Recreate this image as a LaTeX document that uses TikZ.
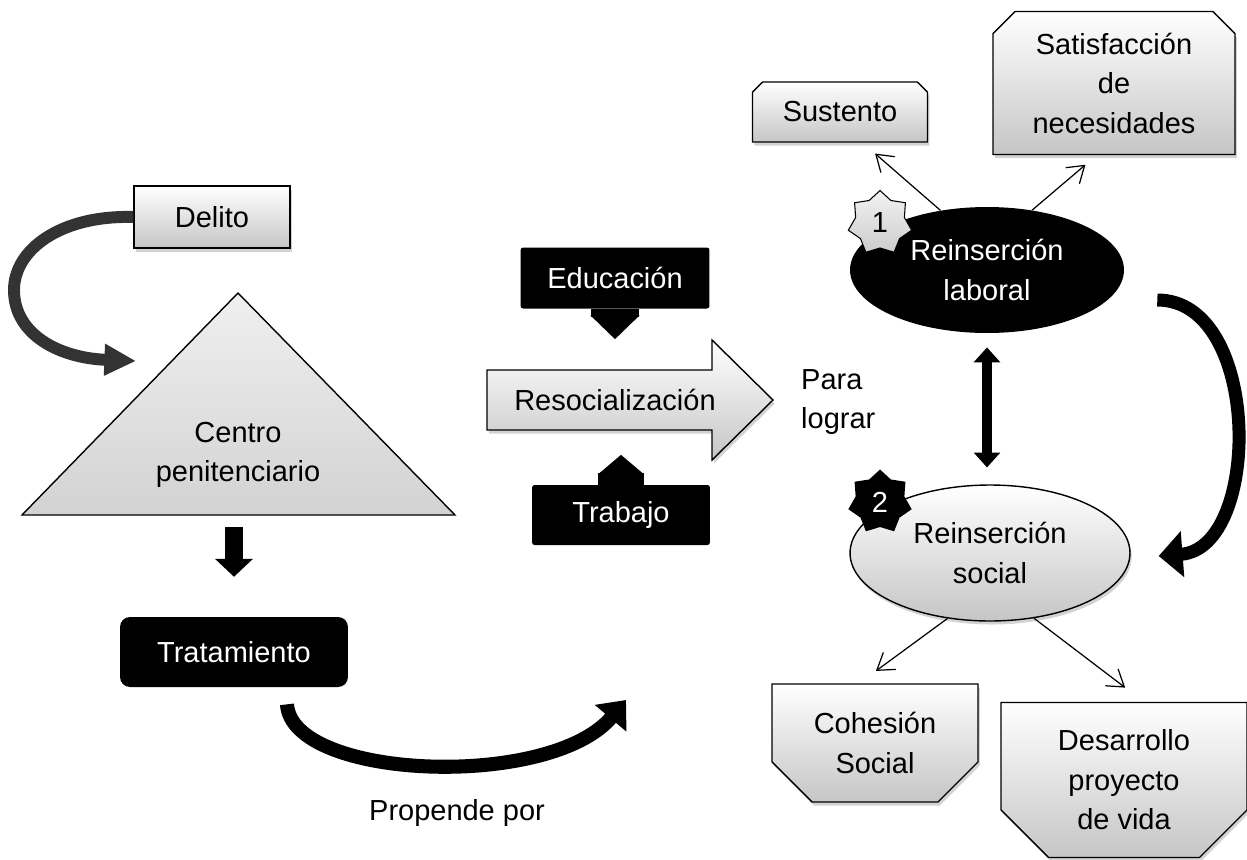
\documentclass[tikz,border=0pt]{standalone}
\usepackage{fontspec}
\setmainfont{Liberation Sans}
\usetikzlibrary{arrows.meta,shapes.geometric,shadows}
\pgfdeclarelayer{background}
\pgfsetlayers{background,main}

\begin{document}
\begin{tikzpicture}[
        %Environment Config
        x=0.02cm, y=-0.02cm,
        font=\fontsize{16.5}{22.5}\selectfont,
        GrayShape/.style={%Style for the light gray shapes
            draw,
            line width=0.8pt,
            top color=white,
            bottom color=gray!45,
            drop shadow={opacity=0.35, shadow xshift=1pt, shadow yshift=-2pt},
            align=center,
            inner sep=0pt
        },
        BlackShape/.style={%Style for the black shapes
            fill=black,
            text=white,
            align=center,
            inner sep=0pt
        },
        SnipText/.style={%Style for the text of the boxes with cut corners
            align=center,
            inner sep=0pt,
            outer sep=0pt
        },
        ThinArrow/.style={%Style for the thin connectors
            -{Straight Barb[length=9pt,width=12pt]},
            line width=0.7pt
        },
        BigArrow/.style={%Style for the thick curved arrows
            line width=#1,
            line cap=butt
        },
        Numbered/.style={%Style for the star marks
            star,
            star points=7,
            star point ratio=1.3,
            minimum size=1.3cm,
            inner sep=0pt,
            line width=0.6pt
        }
    ]
    \def\SnipTop(#1)#2{%box with the upper corners cut
        \begin{pgfonlayer}{background}
            \draw[GrayShape] (#1.south west) -- ([yshift=-#2]#1.north west) -- ([xshift=#2]#1.north west)
                -- ([xshift=-#2]#1.north east) -- ([yshift=-#2]#1.north east) -- (#1.south east) -- cycle;
        \end{pgfonlayer}
    }
    \def\SnipBottom(#1)#2{%box with the lower corners cut
        \begin{pgfonlayer}{background}
            \draw[GrayShape] (#1.north west) -- ([yshift=#2]#1.south west) -- ([xshift=#2]#1.south west)
                -- ([xshift=-#2]#1.south east) -- ([yshift=#2]#1.south east) -- (#1.north east) -- cycle;
        \end{pgfonlayer}
    }
    \useasboundingbox (0,0) rectangle (1247,859);

    %%%%%%%%%%%%%%%%%%%%%%%%%%%%%%%%%%%%%%%%%%%%%%%%%%%%%%%%%%%%%%%%%%%%%%%%%%%%
    % LEFT PART
    %%%%%%%%%%%%%%%%%%%%%%%%%%%%%%%%%%%%%%%%%%%%%%%%%%%%%%%%%%%%%%%%%%%%%%%%%%%%
    \node[GrayShape, minimum width=3.12cm, minimum height=1.24cm] (Delito) at (212,217) {Delito};

    % triangle of the prison
    \coordinate (CentroTop) at (238,293);
    \coordinate (CentroLeft) at (22,515);
    \coordinate (CentroRight) at (455,515);
    \draw[line width=0.8pt, top color=gray!12, bottom color=gray!35] (CentroTop) -- (CentroRight) -- (CentroLeft) -- cycle;
    \node[align=center] (Centro) at (238,455) {Centro\\penitenciario};

    \coordinate (DelitoTip) at (136,361);
    \draw[BigArrow=6.8pt, black!80, -{Triangle[length=18pt,width=17pt]}]
        (Delito.west) .. controls (60,215) and (14,250) .. (14,290)
        .. controls (14,335) and (60,358) .. (DelitoTip);

    \node[BlackShape, rounded corners=0.2cm, minimum width=4.56cm, minimum height=1.4cm] (Tratamiento) at (234,652) {Tratamiento};
    \draw[line width=10.2pt, -{Triangle[length=10.2pt,width=21pt]}, shorten <=6.8pt, shorten >=22.7pt]
        (Tratamiento |- CentroLeft) -- (Tratamiento.north);

    \node (Propende) at (457,813) {Propende por};
    \coordinate (PropendeTip) at (626,700);
    \draw[BigArrow=8pt, -{Triangle[length=13.6pt,width=22.7pt]}]
        ([shift={(53,17)}]Tratamiento.south) .. controls (292,780) and (550,790) .. (PropendeTip);

    %%%%%%%%%%%%%%%%%%%%%%%%%%%%%%%%%%%%%%%%%%%%%%%%%%%%%%%%%%%%%%%%%%%%%%%%%%%%
    % MIDDLE PART
    %%%%%%%%%%%%%%%%%%%%%%%%%%%%%%%%%%%%%%%%%%%%%%%%%%%%%%%%%%%%%%%%%%%%%%%%%%%%
    % block arrow
    \draw[GrayShape] (487,370) -- (712,370) -- (712,340) -- (773,400) -- (712,460) -- (712,430) -- (487,430) -- cycle;
    \node (Resocializacion) at (615,400) {Resocializaci\'on};

    \node[BlackShape, rounded corners=1.5pt, minimum width=3.78cm, minimum height=1.22cm] (Educacion) at (615,278) {Educaci\'on};
    \node[BlackShape, rounded corners=1.5pt, minimum width=3.56cm, minimum height=1.2cm] (Trabajo) at (621,515) {Trabajo};
    \draw[line width=27.2pt, -{Triangle[length=13.6pt,width=27.2pt]}, shorten >=34.6pt]
        (Educacion.south) -- (Educacion |- Resocializacion);
    \draw[line width=26pt, -{Triangle[length=11.3pt,width=26pt]}, shorten >=31.2pt]
        (Trabajo.north) -- (Trabajo |- Resocializacion);

    \node[anchor=west, align=left] (ParaLograr) at (795,402) {Para\\lograr};

    %%%%%%%%%%%%%%%%%%%%%%%%%%%%%%%%%%%%%%%%%%%%%%%%%%%%%%%%%%%%%%%%%%%%%%%%%%%%
    % RIGHT PART
    %%%%%%%%%%%%%%%%%%%%%%%%%%%%%%%%%%%%%%%%%%%%%%%%%%%%%%%%%%%%%%%%%%%%%%%%%%%%
    % upper ellipse
    \node[BlackShape, ellipse, minimum width=5.48cm, minimum height=2.52cm] (Laboral) at (987,270) {Reinserci\'on\\laboral};
    \node[Numbered, draw, top color=gray!10, bottom color=gray!40] (StarOne) at (880,223) {1};

    \node[SnipText, minimum width=3.5cm, minimum height=1.2cm] (Sustento) at (840,112) {Sustento};
    \SnipTop(Sustento){0.2cm}
    \node[SnipText, minimum width=4.84cm, minimum height=2.86cm] (Satisfaccion) at (1114,83) {Satisfacci\'on\\de\\necesidades};
    \SnipTop(Satisfaccion){0.44cm}
    \draw[ThinArrow, shorten >=10pt] (Laboral.128) -- (Sustento.-54);
    \draw[ThinArrow, shorten >=9pt] (Laboral.53) -- (Satisfaccion.-103);

    % lower ellipse
    \node[GrayShape, ellipse, minimum width=5.6cm, minimum height=2.72cm] (Social) at (990,553) {Reinserci\'on\\social};
    \node[Numbered, fill=black, text=white] (StarTwo) at (880,502) {2};

    \draw[line width=5.7pt, {Triangle[length=8.5pt,width=14.7pt]}-{Triangle[length=8.5pt,width=14.7pt]},
        shorten <=8pt, shorten >=9.6pt] (Laboral.south) -- (Laboral.south |- Social.north);

    \draw[BigArrow=7.4pt, -{Triangle[length=13.6pt,width=25.5pt]}]
        ([shift={(33,30)}]Laboral.east) .. controls (1262,300) and (1262,548) .. ([shift={(28,3)}]Social.east);

    \node[SnipText, minimum width=4.12cm, minimum height=2.36cm] (Cohesion) at (875,743) {Cohesi\'on\\Social};
    \SnipBottom(Cohesion){0.8cm}
    \node[SnipText, minimum width=4.92cm, minimum height=3.1cm] (Desarrollo) at (1124,780) {Desarrollo\\proyecto\\de vida};
    \SnipBottom(Desarrollo){0.95cm}
    \draw[ThinArrow, shorten >=12.6pt] (Social.-123) -- (Cohesion.106);
    \draw[ThinArrow, shorten >=14pt] (Social.-56) -- (Desarrollo.75);
\end{tikzpicture}
\end{document}
